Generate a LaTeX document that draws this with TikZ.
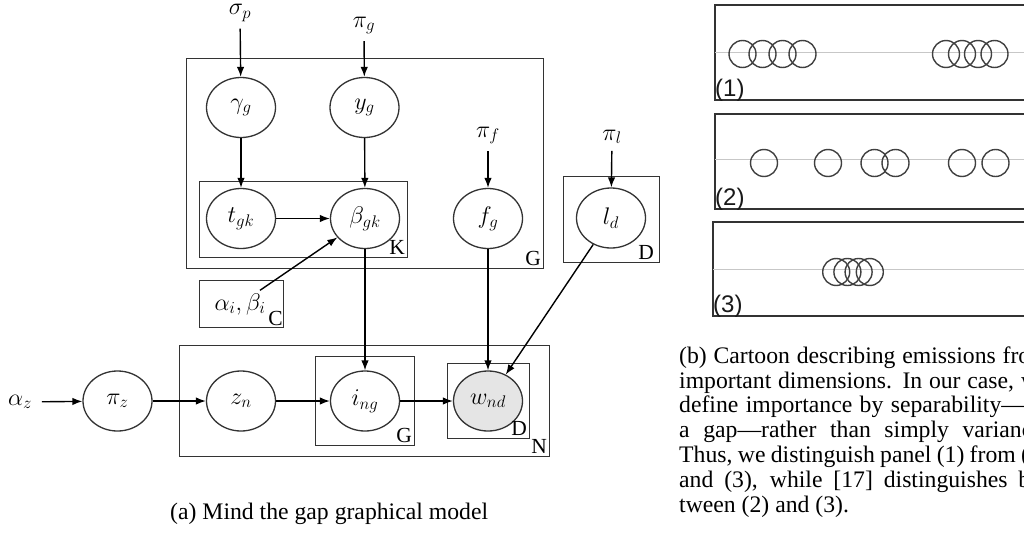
\RequirePackage{fix-cm}
\documentclass[tikz,border=0pt]{standalone}
\usepackage{fontspec}
\setmainfont{Liberation Serif}
\newfontfamily\panelfont{Liberation Sans}
\usetikzlibrary{shapes.geometric, arrows.meta}

\begin{document}
\begin{tikzpicture}[x=1pt, y=-1pt,
        latent/.style={ellipse, draw=black!80, line width=1.3pt, minimum width=69pt, minimum height=60pt, inner sep=0pt, font=\fontsize{24}{28}\selectfont},
        obs/.style={latent, fill=black!10},
        param/.style={inner sep=0pt, outer sep=7pt, font=\fontsize{24}{28}\selectfont},
        plate/.style={draw=black!80, line width=1pt},
        platelab/.style={anchor=south east, inner sep=2pt, font=\fontsize{21.5}{25}\selectfont},
        arr/.style={-{Latex[length=10pt, width=7.5pt]}, line width=1.4pt},
        panel/.style={draw=black!80, line width=1.3pt},
        guide/.style={draw=black!22, line width=1pt},
        blob/.style={draw=black!75, line width=1.4pt},
        panellab/.style={anchor=base west, inner sep=0pt, text=black!90, font=\panelfont\fontsize{24}{28}\selectfont}]
    \useasboundingbox (0,0) rectangle (1024,533);

    % Nodes
    \node[param] at (240, 13)    (sigp)  {$\sigma_p$};
    \node[param] at (364, 25.5)  (pig)   {$\pi_g$};
    \node[param] at (488, 135.5) (pif)   {$\pi_f$};
    \node[param] at (612, 137)   (pil)   {$\pi_l$};
    \node[param, outer sep=10pt] at (20, 402) (az) {$\alpha_z$};
    \node[param, outer sep=3pt] at (240, 304) (ab) {$\alpha_i,\beta_i$};

    \node[latent] at (241, 107.5) (gam) {$\gamma_g$};
    \node[latent] at (364.5, 107.5) (yg) {$y_g$};
    \node[latent] at (241, 218.5) (tgk) {$t_{gk}$};
    \node[latent] at (365, 218.5) (bgk) {$\beta_{gk}$};
    \node[latent] at (488, 218.5) (fg)  {$f_g$};
    \node[latent] at (611, 218)   (ld)  {$l_d$};
    \node[latent] at (117.5, 401) (piz) {$\pi_z$};
    \node[latent] at (241, 401)   (zn)  {$z_n$};
    \node[latent] at (365, 401)   (ing) {$i_{ng}$};
    \node[obs]    at (488, 401)   (wnd) {$w_{nd}$};

    % Plates
    \draw[plate] (186,58) rectangle (543,268);
    \draw[plate] (199,181) rectangle (407,257);
    \draw[plate] (563,176) rectangle (659,262);
    \draw[plate] (199,280) rectangle (283,327);
    \draw[plate] (179,345) rectangle (549,456);
    \draw[plate] (315,356) rectangle (414,445);
    \draw[plate] (447,363) rectangle (529,438);
    \node[platelab] at (543,268) (plG)  {G};
    \node[platelab] at (407,257) (plK)  {K};
    \node[platelab] at (656,262) (plD)  {D};
    \node[platelab] at (285,328) (plC)  {C};
    \node[platelab] at (549,456) (plN)  {N};
    \node[platelab] at (414,445) (plGi) {G};
    \node[platelab] at (529,438) (plDi) {D};

    % Edges
    \draw[arr] (sigp) edge (gam);
    \draw[arr] (pig) edge (yg);
    \draw[arr] (gam) edge (tgk);
    \draw[arr] (yg) edge (bgk);
    \draw[arr] (tgk) edge (bgk);
    \draw[arr] (ab) edge (bgk);
    \draw[arr] (pif) edge (fg);
    \draw[arr] (pil) edge (ld);
    \draw[arr] (az) edge (piz);
    \draw[arr] (piz) edge (zn);
    \draw[arr] (zn) edge (ing);
    \draw[arr] (ing) edge (wnd);
    \draw[arr] (bgk) edge (ing);
    \draw[arr] (fg) edge (wnd);
    \draw[arr] (ld) edge (wnd);

    \node[anchor=base west, inner sep=0pt, font=\fontsize{23.7}{24.8}\selectfont] at (170,519) (capa) {(a) Mind the gap graphical model};

    % Cartoon panels
    \draw[panel] (715,5) rectangle (1035,100);
    \draw[guide] (715,52) -- (1035,52);
    \foreach \x in {742.5, 762.5, 782.5, 802.5, 946, 962, 978, 994.5}
        \draw[blob] (\x,54) circle[radius=13.5pt];
    \node[panellab] at (715,96) (one) {(1)};

    \draw[panel] (715,114) rectangle (1035,209);
    \draw[guide] (715,159) -- (1035,159);
    \foreach \x in {764, 828, 874.5, 895.5, 962, 995.5}
        \draw[blob] (\x,163) circle[radius=13.5pt];
    \node[panellab] at (715,205) (two) {(2)};

    \draw[panel] (713,222) rectangle (1035,316);
    \draw[guide] (713,269) -- (1035,269);
    \foreach \x in {836.2, 847.4, 858.6, 869.8}
        \draw[blob] (\x,272) circle[radius=13.5pt];
    \node[panellab] at (713,312) (three) {(3)};

    \node[anchor=north west, inner sep=0pt, text width=369.5pt, align=justify, font=\fontsize{23.7}{24.8}\selectfont] at (679,346.5) (capb)
        {\noindent\hyphenpenalty=10000 \tolerance=10000
        (b) Cartoon describing emissions from\linebreak
        important dimensions. In our case, we\linebreak
        define importance by separability—\hspace*{1em}\linebreak
        a gap—rather than simply variance.\linebreak
        Thus, we distinguish panel (1) from (2)\linebreak
        and (3), while [17] distinguishes be-\linebreak
        tween (2) and (3).};
\end{tikzpicture}
\end{document}
